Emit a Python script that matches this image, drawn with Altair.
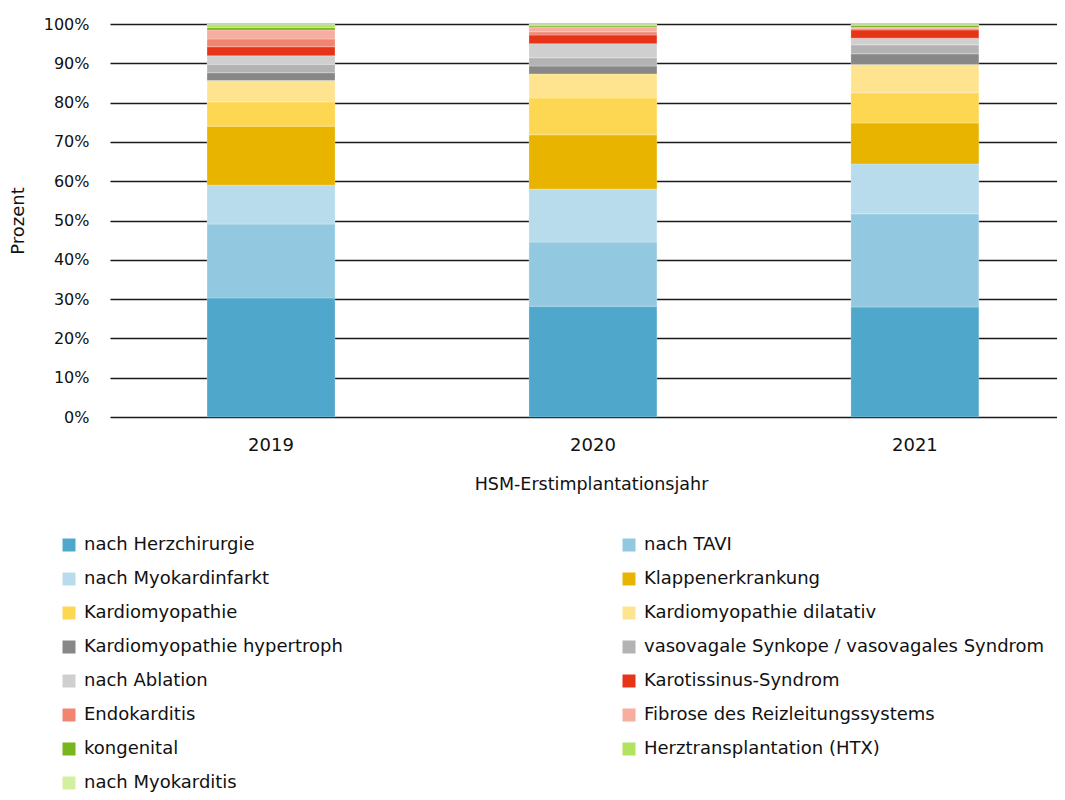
import altair as alt
import pandas as pd

years = ["2019", "2020", "2021"]
categories = [
    "nach Herzchirurgie",
    "nach TAVI",
    "nach Myokardinfarkt",
    "Klappenerkrankung",
    "Kardiomyopathie",
    "Kardiomyopathie dilatativ",
    "Kardiomyopathie hypertroph",
    "vasovagale Synkope / vasovagales Syndrom",
    "nach Ablation",
    "Karotissinus-Syndrom",
    "Endokarditis",
    "Fibrose des Reizleitungssystems",
    "kongenital",
    "Herztransplantation (HTX)",
    "nach Myokarditis",
]
colors = [
    "#4fa8cc", "#93c9e0", "#b8dcec", "#e8b400", "#fed752", "#fee48f",
    "#878787", "#b3b3b3", "#cfcfcf", "#e63419", "#f28570", "#f7ada0",
    "#79b51d", "#b3e35e", "#d2f09e",
]
values_2019 = [30.3, 18.8, 9.9, 15.0, 6.2, 5.4, 2.0, 2.1, 2.2, 2.3, 2.0, 2.3, 0.6, 0.7, 0.2]
values_2020 = [28.2, 16.3, 13.5, 13.8, 9.4, 6.1, 2.0, 2.1, 3.6, 2.2, 0.8, 1.1, 0.4, 0.3, 0.2]
values_2021 = [28.0, 23.7, 12.7, 10.4, 7.7, 7.2, 2.7, 2.3, 1.7, 2.1, 0.4, 0.2, 0.5, 0.3, 0.1]

rows = []
for year, vals in zip(years, [values_2019, values_2020, values_2021]):
    for i, (cat, v) in enumerate(zip(categories, vals)):
        rows.append({"Jahr": year, "Kategorie": cat, "Wert": v, "idx": i})
df = pd.DataFrame(rows)

FONT = "DejaVu Sans"

chart = (
    alt.Chart(df)
    .mark_bar(stroke="white", strokeWidth=0.4, strokeOpacity=0.6)
    .encode(
        x=alt.X(
            "Jahr:N",
            title="HSM-Erstimplantationsjahr",
            scale=alt.Scale(paddingInner=0.6025, paddingOuter=0.272, align=0.554),
            axis=alt.Axis(
                labelAngle=0, ticks=False, domain=False, labelPadding=19,
                titlePadding=21, labelFontSize=18, titleFontSize=17.5,
                titleX=481, titleAlign="center",
                labelColor="#111", titleColor="#111", titleFontWeight="normal",
            ),
        ),
        y=alt.Y(
            "Wert:Q",
            stack="normalize",
            title="Prozent",
            scale=alt.Scale(domain=[0, 1], nice=False),
            axis=alt.Axis(
                format=".0%", values=[i / 10 for i in range(11)], ticks=False,
                domain=False, labelPadding=21, titlePadding=16,
                labelFontSize=16, titleFontSize=18, labelColor="#111",
                titleColor="#111", titleFontWeight="normal",
                grid=True, gridColor="#1a1a1a", gridWidth=1.4,
            ),
        ),
        color=alt.Color(
            "Kategorie:N",
            sort=categories,
            scale=alt.Scale(domain=categories, range=colors),
            legend=alt.Legend(
                title=None, orient="none", legendX=-50, legendY=512,
                direction="horizontal", columns=2, columnPadding=277,
                rowPadding=16,
                symbolType="square", symbolSize=169, symbolStrokeWidth=0,
                labelFontSize=18, labelOffset=6, labelColor="#111",
                labelLimit=0, padding=0,
            ),
        ),
        order=alt.Order("idx:Q", sort="ascending"),
        tooltip=["Jahr", "Kategorie", "Wert"],
    )
    .properties(
        width=947, height=393,
        autosize=alt.AutoSizeParams(type="none"),
        padding={"left": 102, "top": 16, "right": 0, "bottom": 375},
    )
    .configure(font=FONT)
    .configure_view(stroke=None)
    .configure_axis(labelFont=FONT, titleFont=FONT)
    .configure_legend(labelFont=FONT)
)

chart.save("out.html", embed_options={"renderer": "svg", "actions": False})
